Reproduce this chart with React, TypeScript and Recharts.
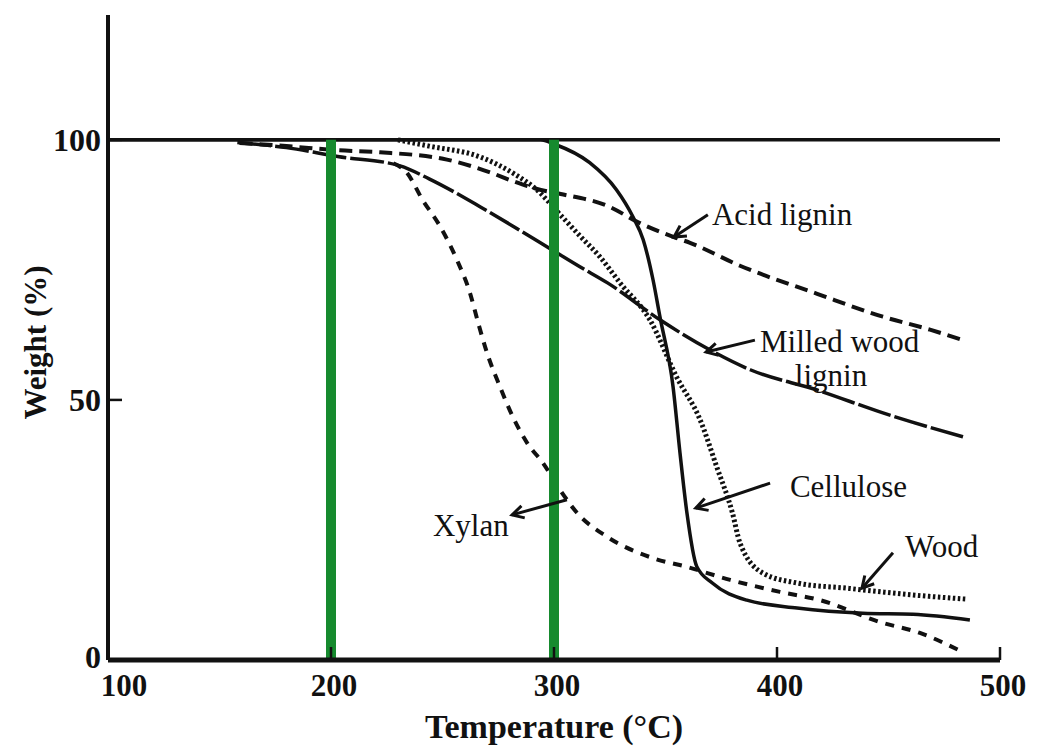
import React from "react";
import { LineChart, Line, XAxis, YAxis, ReferenceLine, ReferenceDot } from "recharts";

const SERIF = '"Liberation Serif", "Times New Roman", serif';
const INK = "#111";

// TGA curves: temperature (°C) and remaining weight (%)
const celluloseT = [100, 250, 294, 300, 316, 328, 335.4, 340, 344.4, 347.5, 353.4, 356.5, 359.6, 364, 371, 386.5, 409, 438.5, 461, 486.5];
const celluloseW = [100, 100, 100, 99.2, 95.6, 90.4, 85.2, 80.8, 73.1, 66, 52.5, 39.8, 28.3, 18, 14.8, 11.5, 10, 9, 8.8, 7.7];

const acidLigninT = [159, 180, 203, 222, 252, 271, 282, 292, 303, 324, 338.5, 353.8, 361, 383.4, 418, 447.5, 468.6, 483.4];
const acidLigninW = [99.4, 98.8, 98, 97.6, 96.2, 93.8, 92, 90.6, 89.6, 87.3, 84, 81.3, 80.2, 75.8, 70.4, 66, 63.5, 61.5];

const milledLigninT = [158, 180, 203, 231, 244, 267, 282, 297, 311.6, 324, 347.5, 370, 388, 418, 447.5, 483.4];
const milledLigninW = [99.5, 98.5, 96.8, 95, 92.5, 87.1, 83.3, 79.4, 75.6, 72.5, 65.4, 59.6, 55.8, 51.9, 47.5, 42.9];

const xylanT = [228, 234, 241, 249, 256.5, 262.3, 266, 270, 275.8, 281.6, 288, 295, 302.7, 310.3, 323.8, 345, 359.6, 379, 401.3, 419.3, 446.2, 464.1, 483.4];
const xylanW = [95.5, 93.7, 88.5, 83.3, 76.9, 70.6, 64.8, 59, 52.5, 46.7, 41.7, 37.9, 32.7, 28.3, 23.7, 19.5, 17.9, 15.4, 13.1, 11.5, 7.3, 5.2, 1.5];

const woodT = [230, 244, 267, 282, 292, 303, 311.7, 320.6, 329.6, 343, 355, 365.5, 373, 380, 383.4, 393.7, 409, 431.4, 461, 485];
const woodW = [100, 98.8, 96.7, 93.5, 90.5, 85.5, 81.5, 77.5, 72.5, 65.4, 54.4, 46.2, 37.1, 28.3, 22.5, 16.7, 14.8, 13.8, 12.5, 11.7];

const xTicks = [100, 200, 300, 400, 500];
const yTicks = [0, 50, 100];
const markerTemps = [200, 300];

// callout texts and where they sit (°C, %)
const labelTexts = ["Acid lignin", "Milled wood", "lignin", "Cellulose", "Wood", "Xylan"];
const labelT = [370.8, 392.4, 408, 405.8, 457.4, 245.7];
const labelW = [83.6, 59.2, 52.7, 31.3, 19.8, 23.8];

// leader arrows from a label towards its curve
const arrowFromT = [369, 390.1, 396.9, 452, 305.8];
const arrowFromW = [85.6, 61.5, 34, 20.6, 30.8];
const arrowToT = [353.8, 368.2, 363.6, 438.1, 281.2];
const arrowToW = [81.3, 59.2, 29.2, 13.8, 27.9];

const zip = (t: number[], w: number[]) => t.map((temp, i) => ({ t: temp, w: w[i] }));

const Y_GAP = 7;
const X_GAP = 14;

const YTick = ({ x, y, payload }: any) => (
  <g>
    <line x1={x + Y_GAP} x2={x + Y_GAP + 14} y1={y} y2={y} stroke={INK} strokeWidth={2.5} />
    <text x={x} y={payload.value === 0 ? y - 3 : y} textAnchor="end" dominantBaseline="central" fontFamily={SERIF} fontWeight="bold" fontSize={32} fill={INK}>
      {payload.value}
    </text>
  </g>
);

const XTick = ({ x, y, payload }: any) => (
  <g>
    <line x1={x} x2={x} y1={y - X_GAP} y2={y - X_GAP - 13} stroke={INK} strokeWidth={2.5} />
    <text x={payload.value === 100 ? x + 16 : x + 3} y={y} dy="0.72em" textAnchor="middle" fontFamily={SERIF} fontWeight="bold" fontSize={31} fill={INK}>
      {payload.value}
    </text>
  </g>
);

const Arrow = (p: any) => {
  const { x1, y1, x2, y2 } = p;
  const ang = Math.atan2(y2 - y1, x2 - x1);
  const len = 13;
  const spread = 0.5;
  const a = [x2 - len * Math.cos(ang - spread), y2 - len * Math.sin(ang - spread)];
  const b = [x2 - len * Math.cos(ang + spread), y2 - len * Math.sin(ang + spread)];
  return (
    <g>
      <line x1={x1} y1={y1} x2={x2} y2={y2} stroke={INK} strokeWidth={3} />
      <polyline points={`${a[0]},${a[1]} ${x2},${y2} ${b[0]},${b[1]}`} fill="none" stroke={INK} strokeWidth={3} />
    </g>
  );
};

const CalloutText = (text: string) => (p: any) => (
  <text x={p.cx} y={p.cy} fontFamily={SERIF} fontSize={31} fill={INK}>
    {text}
  </text>
);

const YTitle = ({ viewBox }: any) => {
  const cx = viewBox.x - 13;
  const cy = viewBox.y + viewBox.height / 2 + 5;
  return (
    <text x={cx} y={cy} transform={`rotate(-90 ${cx} ${cy})`} textAnchor="middle" dominantBaseline="central" fontFamily={SERIF} fontWeight="bold" fontSize={31} fill={INK}>
      Weight (%)
    </text>
  );
};

const XTitle = ({ viewBox }: any) => (
  <text x={viewBox.x + viewBox.width / 2} y={viewBox.y + viewBox.height - 10} textAnchor="middle" fontFamily={SERIF} fontWeight="bold" fontSize={34} fill={INK}>
    Temperature (°C)
  </text>
);

export default function App() {
  return (
    <div style={{ position: "absolute", left: 0, top: 0, width: 1041, height: 748, background: "#fff" }}>
      <LineChart width={1041} height={748} margin={{ top: 15, right: 41, bottom: 0, left: 48 }}>
        <XAxis
          type="number"
          dataKey="t"
          domain={[100, 500]}
          ticks={xTicks}
          height={88}
          tickSize={0}
          tickMargin={X_GAP}
          tick={<XTick />}
          axisLine={{ stroke: INK, strokeWidth: 5 }}
          label={{ content: <XTitle /> }}
        />
        <YAxis
          type="number"
          dataKey="w"
          domain={[0, 124]}
          ticks={yTicks}
          width={60}
          tickSize={0}
          tickMargin={Y_GAP}
          tick={<YTick />}
          axisLine={{ stroke: INK, strokeWidth: 4 }}
          label={{ content: <YTitle /> }}
        />
        <ReferenceLine y={100} stroke={INK} strokeWidth={3.5} />
        <Line data={zip(celluloseT, celluloseW)} dataKey="w" type="monotone" stroke={INK} strokeWidth={3.5} dot={false} isAnimationActive={false} />
        <Line data={zip(acidLigninT, acidLigninW)} dataKey="w" type="monotone" stroke={INK} strokeWidth={4} strokeDasharray="13 7" dot={false} isAnimationActive={false} />
        <Line data={zip(milledLigninT, milledLigninW)} dataKey="w" type="monotone" stroke={INK} strokeWidth={3.5} strokeDasharray="34 4" dot={false} isAnimationActive={false} />
        <Line data={zip(xylanT, xylanW)} dataKey="w" type="monotone" stroke={INK} strokeWidth={4} strokeDasharray="9 8" dot={false} isAnimationActive={false} />
        <Line data={zip(woodT, woodW)} dataKey="w" type="monotone" stroke={INK} strokeWidth={5} strokeDasharray="2.5 2.5" dot={false} isAnimationActive={false} />
        {markerTemps.map((t) => (
          <ReferenceLine key={t} segment={[{ x: t, y: 0 }, { x: t, y: 100 }]} stroke="#168a2e" strokeWidth={10} />
        ))}
        {arrowFromT.map((t, i) => (
          <ReferenceLine
            key={`arrow-${i}`}
            segment={[{ x: t, y: arrowFromW[i] }, { x: arrowToT[i], y: arrowToW[i] }]}
            shape={Arrow}
          />
        ))}
        {labelTexts.map((text, i) => (
          <ReferenceDot key={text} x={labelT[i]} y={labelW[i]} r={0} shape={CalloutText(text)} />
        ))}
      </LineChart>
    </div>
  );
}
